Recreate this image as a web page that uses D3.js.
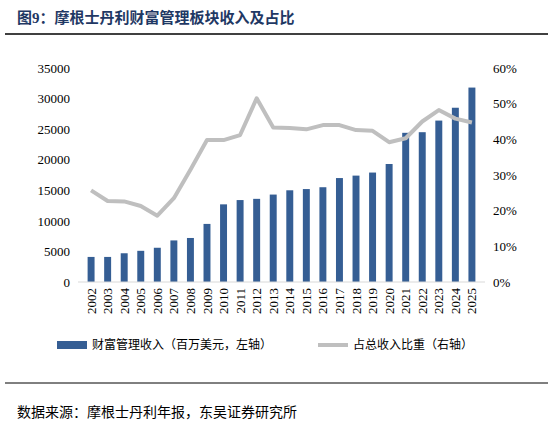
<!DOCTYPE html>
<html><head><meta charset="utf-8">
<script src="https://cdn.jsdelivr.net/npm/d3@7"></script>
<style>body{margin:0;background:#fff}</style>
</head><body>
<svg id="chart" width="552" height="430"></svg>
<script>
const years = ["2002","2003","2004","2005","2006","2007","2008","2009","2010","2011","2012","2013","2014","2015","2016","2017","2018","2019","2020","2021","2022","2023","2024","2025"];
const revenue = [4100,4100,4700,5100,5600,6800,7200,9500,12700,13400,13600,14300,15000,15200,15500,17000,17400,17900,19300,24400,24500,26400,28500,31800];
const share = [25.7,22.7,22.6,21.3,18.6,23.5,31.5,39.8,39.8,41.2,51.5,43.3,43.2,42.8,44.0,44.0,42.6,42.4,39.2,40.3,45.0,48.2,45.8,44.7];
const leftTicks = [0,5000,10000,15000,20000,25000,30000,35000];
const rightTicks = [0,10,20,30,40,50,60];

const svg = d3.select("#chart");
const cjk = "'Liberation Serif','Noto Sans CJK SC',serif";
const m = { left: 78, right: 485, top: 68, bottom: 282 };

// title + rules
svg.append("text").attr("x", 17).attr("y", 23).attr("fill", "#1f3864")
  .attr("font-family", cjk).attr("font-weight", "bold").attr("font-size", 15)
  .text("图9：摩根士丹利财富管理板块收入及占比");
svg.append("line").attr("x1", 5).attr("x2", 548).attr("y1", 34).attr("y2", 34)
  .attr("stroke", "#000").attr("stroke-width", 1.5);
svg.append("line").attr("x1", 5).attr("x2", 548).attr("y1", 383).attr("y2", 383)
  .attr("stroke", "#000").attr("stroke-width", 1);

const x = d3.scaleBand().domain(years).range([m.left, m.right]).padding(0.58);
const y = d3.scaleLinear().domain([0, 35000]).range([m.bottom, m.top]);
const y2 = d3.scaleLinear().domain([0, 60]).range([m.bottom, m.top]);

svg.selectAll(".bar").data(revenue).enter().append("rect")
  .attr("x", (d, i) => x(years[i])).attr("width", x.bandwidth())
  .attr("y", d => y(d)).attr("height", d => m.bottom - y(d))
  .attr("fill", "#355e94");

svg.append("line").attr("x1", m.left).attr("x2", m.right).attr("y1", m.bottom).attr("y2", m.bottom)
  .attr("stroke", "#d9d9d9");

const line = d3.line().x((d, i) => x(years[i]) + x.bandwidth() / 2).y(d => y2(d));
svg.append("path").datum(share).attr("d", line).attr("fill", "none")
  .attr("stroke", "#bfbfbf").attr("stroke-width", 4).attr("stroke-linejoin", "round");

const axL = svg.append("g").attr("transform", `translate(${m.left - 8},0)`)
  .call(d3.axisLeft(y).tickValues(leftTicks).tickSize(0).tickPadding(0).tickFormat(d => d));
const axR = svg.append("g").attr("transform", `translate(${m.right + 8},0)`)
  .call(d3.axisRight(y2).tickValues(rightTicks).tickSize(0).tickPadding(0).tickFormat(d => d + "%"));
const axB = svg.append("g").attr("transform", `translate(0,${m.bottom + 6})`)
  .call(d3.axisBottom(x).tickSize(0).tickPadding(0));
axB.selectAll("text").attr("transform", "rotate(-90)").attr("text-anchor", "end")
  .attr("dx", 0).attr("dy", "0.35em").attr("y", 0);
[axL, axR, axB].forEach(a => {
  a.select(".domain").remove();
  a.selectAll("text").attr("font-family", "'Liberation Serif',serif").attr("font-size", 13).attr("fill", "#000");
});

// legend
const lg = svg.append("g").attr("font-family", cjk).attr("font-size", 12);
lg.append("rect").attr("x", 57).attr("y", 341).attr("width", 30).attr("height", 8).attr("fill", "#355e94");
lg.append("text").attr("x", 92).attr("y", 349).text("财富管理收入（百万美元，左轴）");
lg.append("line").attr("x1", 318).attr("x2", 348).attr("y1", 345).attr("y2", 345)
  .attr("stroke", "#bfbfbf").attr("stroke-width", 4);
lg.append("text").attr("x", 353).attr("y", 349).text("占总收入比重（右轴）");

svg.append("text").attr("x", 17).attr("y", 417).attr("font-family", cjk).attr("font-size", 14)
  .text("数据来源：摩根士丹利年报，东吴证券研究所");
</script>
</body></html>
